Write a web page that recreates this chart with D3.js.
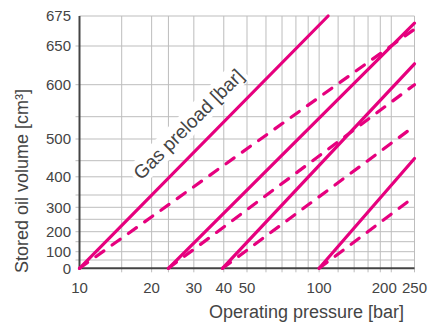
<!DOCTYPE html>
<html>
<head>
<meta charset="utf-8">
<script src="https://cdn.jsdelivr.net/npm/d3@7"></script>
<style>
  body { margin: 0; background: #fff; }
  svg text { font-family: "Liberation Sans", Arial, sans-serif; fill: #444; }
</style>
</head>
<body>
<svg id="chart_svg" width="431" height="322"></svg>
<script>
// values
var xTickValues = [10, 20, 30, 40, 50, 100, 200, 250];
var xGridValues = [15, 20, 23.5, 30, 40, 50, 60, 70, 80, 90, 100, 120, 140, 160, 180, 200, 250];
var yTickValues = [0, 100, 200, 300, 400, 500, 600, 650, 675];
var yGridValues = [50, 100, 150, 200, 250, 300, 350, 400, 450, 500, 550, 600, 650, 675];

// gas preload pressures (bar) where each pair of lines starts at 0 cm3
var preloads = [10, 23.5, 39.5, 100];
// end of each solid line
var solidEndPressure = [109, 250, 250, 250];
var solidEndVolume = [675, 669, 627, 455];
// end of each dashed line
var dashedEndPressure = [250, 250, 250, 250];
var dashedEndVolume = [664, 600, 529, 343];

var MAGENTA = "#e6007e";

window.addEventListener("load", drawChart);

function drawChart() {
  var svg = d3.select("#chart_svg");

  var left = 79.5, right = 414.5, top = 16, bottom = 268.3;

  var x = d3.scaleLog().domain([10, 250]).range([left, right]);
  // the volume axis is not linear, so map each grid value to where it sits
  var y = d3.scaleLinear()
    .domain([0, 50, 100, 150, 200, 250, 300, 350, 400, 450, 500, 550, 600, 650, 675])
    .range([bottom, 260, 251.7, 241.7, 231.7, 219.3, 207.3, 195, 176.8, 160.7, 139, 116.7, 84.7, 46, top]);

  // grid
  var grid = svg.append("g").attr("stroke", "#bdbdbd").attr("stroke-width", 1);
  grid.selectAll("line.v").data(xGridValues).enter().append("line")
    .attr("x1", function (d) { return x(d); })
    .attr("x2", function (d) { return x(d); })
    .attr("y1", top).attr("y2", bottom + 4);
  grid.selectAll("line.h").data(yGridValues).enter().append("line")
    .attr("x1", function (d) { return d === 675 ? left : left - 4; })
    .attr("x2", right)
    .attr("y1", function (d) { return y(d); })
    .attr("y2", function (d) { return y(d); });

  // axes lines
  svg.append("line").attr("x1", left).attr("x2", left).attr("y1", top).attr("y2", bottom + 1)
    .attr("stroke", "#444").attr("stroke-width", 2);
  svg.append("line").attr("x1", left - 1).attr("x2", right).attr("y1", bottom).attr("y2", bottom)
    .attr("stroke", "#444").attr("stroke-width", 2);

  // tick labels (200 is pushed left so it does not run into 250)
  svg.selectAll("text.xt").data(xTickValues).enter().append("text")
    .attr("x", function (d) { return x(d) + (d === 200 ? -7 : 0); })
    .attr("y", 292.5)
    .attr("text-anchor", "middle")
    .attr("font-size", 15)
    .text(function (d) { return d; });

  svg.selectAll("text.yt").data(yTickValues).enter().append("text")
    .attr("x", 71)
    .attr("y", function (d) { return y(d); })
    .attr("dy", "0.35em")
    .attr("text-anchor", "end")
    .attr("font-size", 15)
    .text(function (d) { return d; });

  // axis titles
  svg.append("text").attr("x", 404).attr("y", 318).attr("text-anchor", "end")
    .attr("font-size", 18).text("Operating pressure [bar]");
  svg.append("text").attr("transform", "translate(28,181) rotate(-90)").attr("text-anchor", "middle")
    .attr("font-size", 18).text("Stored oil volume [cm³]");

  // label with white box behind it
  var lab = svg.append("g").attr("transform", "translate(" + (x(29.5) + 1) + "," + (y(525) + 1) + ") rotate(-45)");
  var labBox = lab.append("rect").attr("fill", "#fff");
  var labText = lab.append("text").attr("text-anchor", "middle").attr("font-size", 19)
    .attr("fill", "#333").text("Gas preload [bar]");
  var bb = labText.node().getBBox();
  labBox.attr("x", bb.x - 3).attr("y", bb.y - 2).attr("width", bb.width + 6).attr("height", bb.height + 3);

  var line = d3.line()
    .x(function (d) { return x(d[0]); })
    .y(function (d) { return y(d[1]); });

  var solid = preloads.map(function (p, i) {
    return [[p, 0], [solidEndPressure[i], solidEndVolume[i]]];
  });
  var dashed = preloads.map(function (p, i) {
    return [[p, 0], [dashedEndPressure[i], dashedEndVolume[i]]];
  });

  svg.selectAll("path.dash").data(dashed).enter().append("path")
    .attr("d", line)
    .attr("fill", "none")
    .attr("stroke", MAGENTA)
    .attr("stroke-width", 3.2)
    .attr("stroke-linecap", "round")
    .attr("stroke-dasharray", "10 10");

  svg.selectAll("path.solid").data(solid).enter().append("path")
    .attr("d", line)
    .attr("fill", "none")
    .attr("stroke", MAGENTA)
    .attr("stroke-width", 3.2)
    .attr("stroke-linecap", "round");
}
</script>
</body>
</html>
